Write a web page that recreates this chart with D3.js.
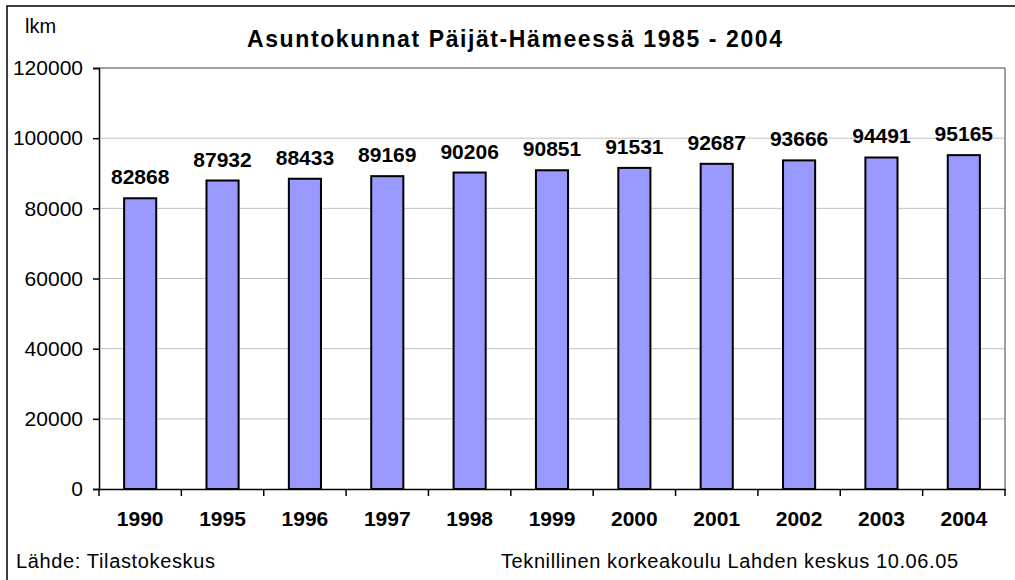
<!DOCTYPE html>
<html><head><meta charset="utf-8">
<script src="https://cdn.jsdelivr.net/npm/d3@7"></script>
<style>body{margin:0;background:#fff}svg{display:block;font-family:"Liberation Sans",Arial,sans-serif}</style>
</head><body><svg id="c" width="1015" height="580"></svg>
<script>
const categories = ["1990","1995","1996","1997","1998","1999","2000","2001","2002","2003","2004"];
const values = [82868,87932,88433,89169,90206,90851,91531,92687,93666,94491,95165];
const yTicks = [0,20000,40000,60000,80000,100000,120000];
const title = "Asuntokunnat Päijät-Hämeessä 1985 - 2004";
const yUnit = "lkm";
const sourceText = "Lähde: Tilastokeskus";
const creditText = "Teknillinen korkeakoulu Lahden keskus 10.06.05";

const svg = d3.select("#c");
const m = {l:99, r:1005, t:68, b:489};
const x = d3.scaleBand().domain(categories).range([m.l, m.r]).paddingInner(0.61).paddingOuter(0.305);
const y = d3.scaleLinear().domain([0,120000]).range([m.b, m.t]);

// outer frame
svg.append("rect").attr("x",7).attr("y",6).attr("width",1015).attr("height",580)
  .attr("fill","none").attr("stroke","#000").attr("stroke-width",1.5);

// grid
svg.append("g").selectAll("line").data(yTicks.filter(d=>d>0)).join("line")
  .attr("x1",m.l).attr("x2",m.r).attr("y1",d=>y(d)).attr("y2",d=>y(d))
  .attr("stroke",d=>d===120000?"#808080":"#c0c0c0").attr("stroke-width",d=>d===120000?1.5:1);
svg.append("line").attr("x1",m.r).attr("x2",m.r).attr("y1",m.t).attr("y2",m.b)
  .attr("stroke","#808080").attr("stroke-width",1.5);

// bars
svg.append("g").selectAll("rect").data(values).join("rect")
  .attr("x",(d,i)=>x(categories[i])).attr("width",x.bandwidth())
  .attr("y",d=>y(d)).attr("height",d=>m.b-y(d))
  .attr("fill","#9999ff").attr("stroke","#000").attr("stroke-width",2);

// bar labels
svg.append("g").selectAll("text").data(values).join("text")
  .attr("x",(d,i)=>x(categories[i])+x.bandwidth()/2).attr("y",d=>y(d)-14)
  .attr("text-anchor","middle").attr("font-weight","bold").attr("font-size",21)
  .text(d=>d);

// y axis
const yAxis = d3.axisLeft(y).tickValues(yTicks).tickSize(6).tickPadding(10).tickFormat(d3.format("d"));
const gy = svg.append("g").attr("transform",`translate(${m.l},0)`).call(yAxis);
gy.select(".domain").attr("stroke","#000").attr("stroke-width",1.5);
gy.selectAll(".tick line").attr("stroke","#000").attr("stroke-width",1.5);
gy.selectAll(".tick text").attr("font-size",21).attr("font-family","Liberation Sans, Arial, sans-serif").attr("fill","#000");

// x axis
const xAxis = d3.axisBottom(x).tickSize(0).tickPadding(22);
const gx = svg.append("g").attr("transform",`translate(0,${m.b})`).call(xAxis);
gx.select(".domain").attr("stroke","#000").attr("stroke-width",1.5);
gx.selectAll(".tick text").attr("font-size",21).attr("font-weight","bold").attr("font-family","Liberation Sans, Arial, sans-serif").attr("fill","#000");
// boundary ticks
const step = x.step();
svg.append("g").selectAll("line").data(d3.range(categories.length+1)).join("line")
  .attr("x1",i=>m.l+i*step).attr("x2",i=>m.l+i*step).attr("y1",m.b).attr("y2",m.b+7)
  .attr("stroke","#000").attr("stroke-width",1.5);

// texts
svg.append("text").attr("x",247).attr("y",47).attr("textLength",535).attr("lengthAdjust","spacing")
  .attr("font-weight","bold").attr("font-size",23).text(title);
svg.append("text").attr("x",25).attr("y",33).attr("font-size",20).text(yUnit);
svg.append("text").attr("x",16).attr("y",568).attr("font-size",20).attr("textLength",199).attr("lengthAdjust","spacing").text(sourceText);
svg.append("text").attr("x",501).attr("y",568).attr("font-size",20).attr("textLength",457).attr("lengthAdjust","spacing").text(creditText);
</script></body></html>
